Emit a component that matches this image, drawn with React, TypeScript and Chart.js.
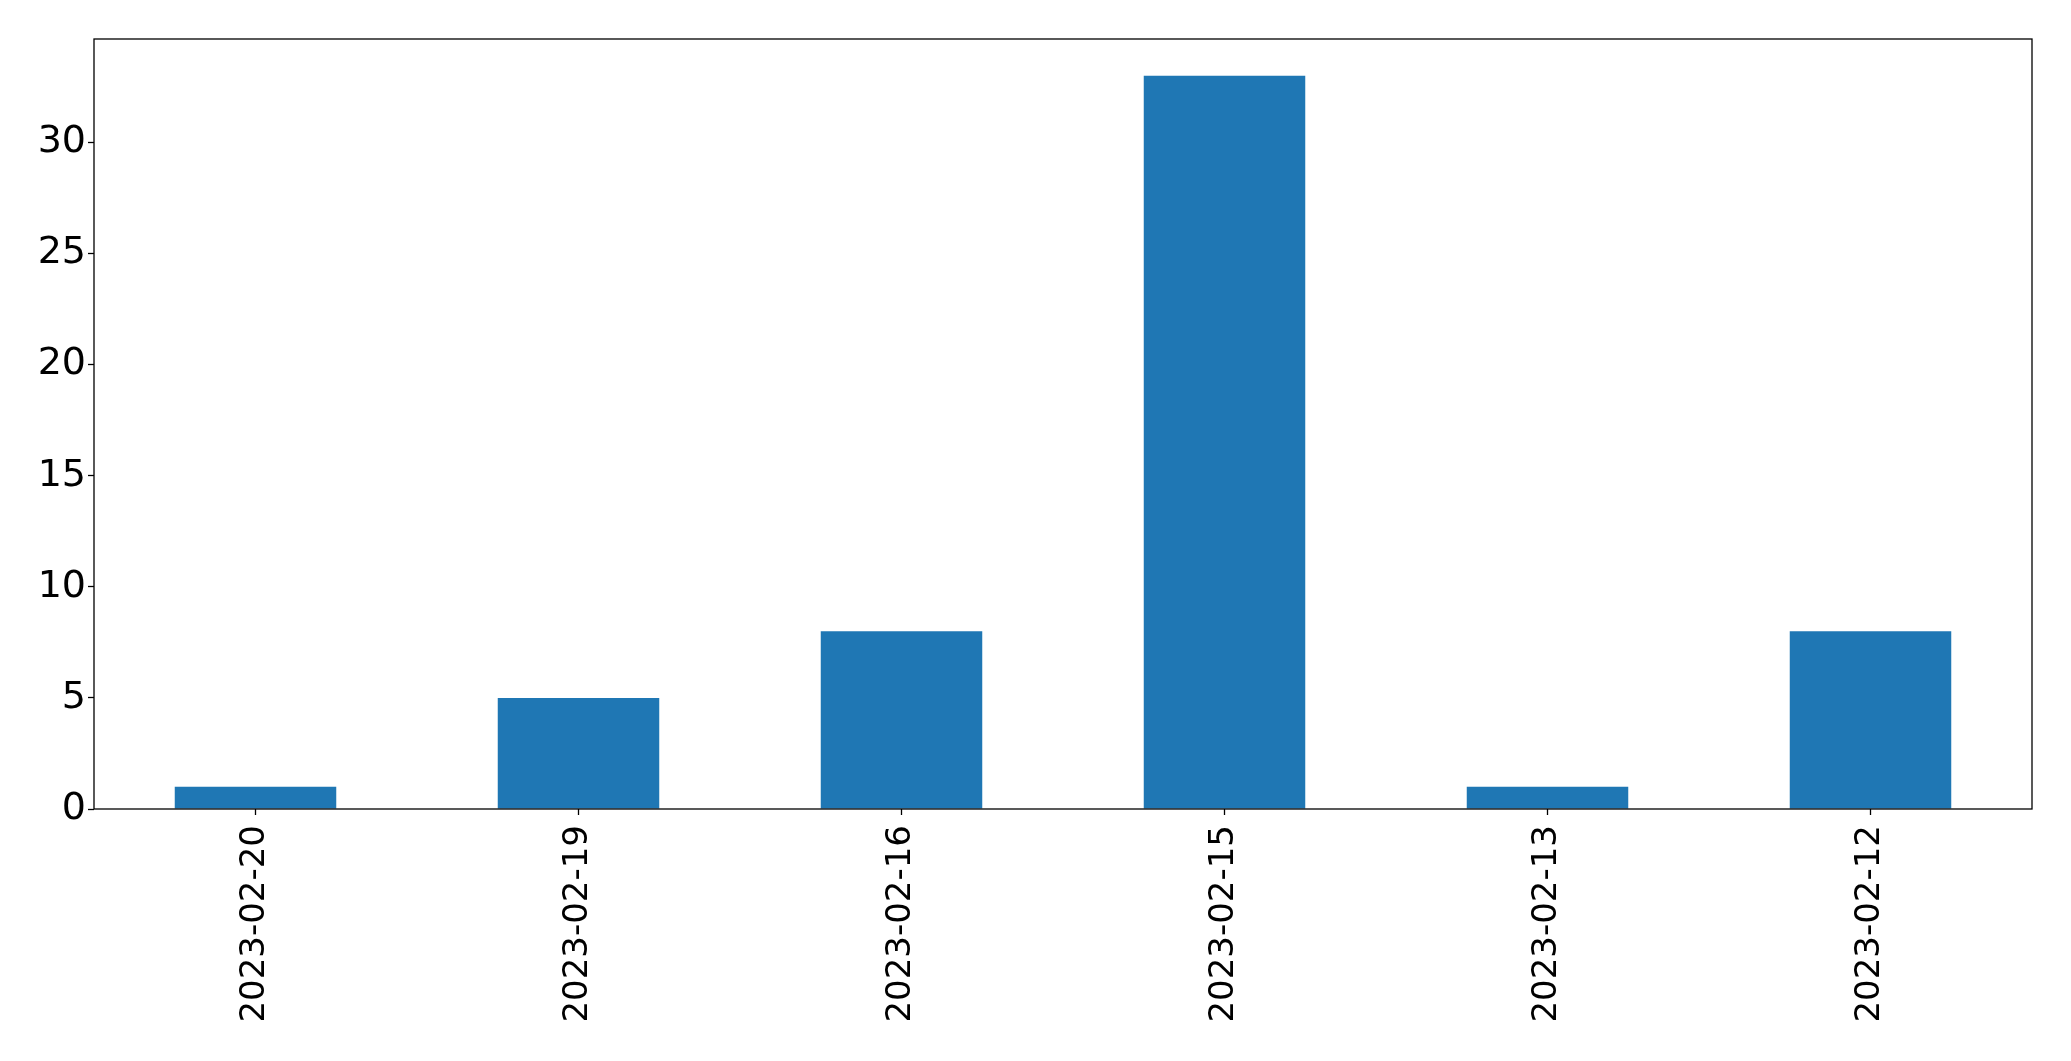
import React, { useEffect, useRef } from "react";
import { Chart, registerables } from "chart.js";

Chart.register(...registerables);

const categories = ["2023-02-20", "2023-02-19", "2023-02-16", "2023-02-15", "2023-02-13", "2023-02-12"];
const counts = [1, 5, 8, 33, 1, 8];
const yMax = 34.65;
const yStep = 5;

const frame = {
  id: "frame",
  afterDraw(chart: any) {
    const { ctx, chartArea } = chart;
    ctx.save();
    ctx.strokeStyle = "#000";
    ctx.lineWidth = 1.3;
    ctx.strokeRect(chartArea.left, chartArea.top, chartArea.right - chartArea.left, chartArea.bottom - chartArea.top);
    ctx.restore();
  },
};

export default function App() {
  const ref = useRef<HTMLCanvasElement>(null);
  useEffect(() => {
    document.body.style.margin = "0";
    const chart = new Chart(ref.current!, {
      type: "bar",
      data: {
        labels: categories,
        datasets: [
          {
            data: counts,
            backgroundColor: "#1f77b4",
            categoryPercentage: 0.5,
            barPercentage: 1,
          },
        ],
      },
      plugins: [frame],
      options: {
        animation: false,
        responsive: false,
        devicePixelRatio: 1,
        layout: { padding: { top: 39, right: 39, left: 0, bottom: 0 } },
        plugins: { legend: { display: false }, tooltip: { enabled: false } },
        scales: {
          x: {
            offset: true,
            afterFit: (s: any) => { s.height = 252; },
            grid: { display: true, drawOnChartArea: false, drawTicks: true, tickLength: 6, color: "#000", tickWidth: 1.3, offset: false },
            border: { display: false },
            ticks: {
              color: "#000",
              font: { family: "DejaVu Sans", size: 34 },
              minRotation: 90,
              maxRotation: 90,
              padding: 10,
              autoSkip: false,
            },
          },
          y: {
            min: 0,
            max: yMax,
            afterFit: (s: any) => { s.width = 94; },
            afterBuildTicks: (s: any) => {
              s.ticks = s.ticks.filter((t: any) => Math.abs(t.value % yStep) < 1e-9);
            },
            grid: { display: true, drawOnChartArea: false, drawTicks: true, tickLength: 6, color: "#000", tickWidth: 1.3 },
            border: { display: false },
            ticks: {
              stepSize: yStep,
              color: "#000",
              font: { family: "DejaVu Sans", size: 38 },
              padding: 2,
            },
          },
        },
      },
    });
    return () => chart.destroy();
  }, []);
  return (
    <div style={{ position: "absolute", left: 0, top: 0, width: 2071, height: 1061, background: "#fff" }}>
      <canvas ref={ref} width={2071} height={1061} style={{ width: 2071, height: 1061 }} />
    </div>
  );
}
